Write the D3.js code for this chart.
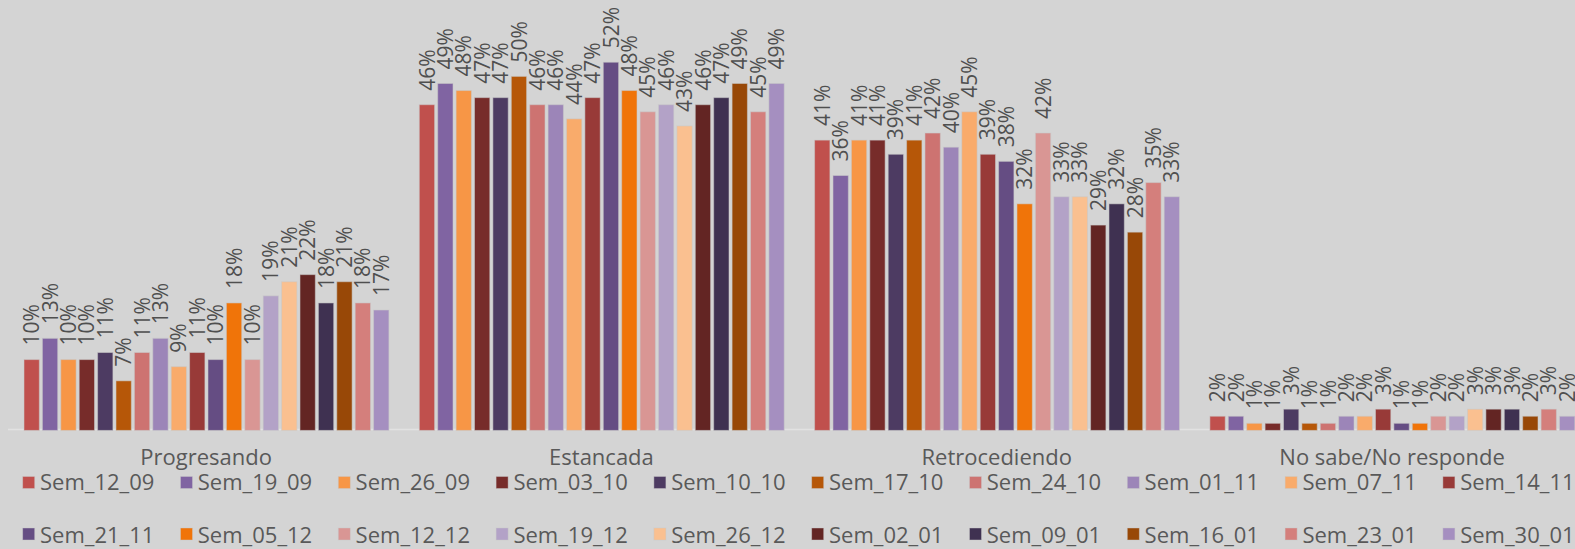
<!DOCTYPE html>
<html>
<head>
<meta charset="utf-8">
<script src="https://cdn.jsdelivr.net/npm/d3@7/dist/d3.min.js"></script>
<style>
html, body { margin: 0; padding: 0; background: #d4d4d4; }
svg { display: block; }
</style>
</head>
<body>
<svg id="chart" width="1575" height="549"></svg>
<script>
const categories = ["Progresando", "Estancada", "Retrocediendo", "No sabe/No responde"];
const series = ["Sem_12_09","Sem_19_09","Sem_26_09","Sem_03_10","Sem_10_10","Sem_17_10","Sem_24_10","Sem_01_11","Sem_07_11","Sem_14_11",
                "Sem_21_11","Sem_05_12","Sem_12_12","Sem_19_12","Sem_26_12","Sem_02_01","Sem_09_01","Sem_16_01","Sem_23_01","Sem_30_01"];
const colors = ["#c0504d","#8064a2","#f79646","#772c2a","#4d3b62","#b65708","#cd7371","#9c85b8","#f9ab6b","#983a38",
                "#654d83","#f07409","#d99694","#b3a2c7","#fac090","#632523","#3f3151","#984807","#d47f7c","#a58fc0"];
// values per category, in series order (percent)
const progresando    = [10,13,10,10,11,7,11,13,9,11,10,18,10,19,21,22,18,21,18,17];
const estancada      = [46,49,48,47,47,50,46,46,44,47,52,48,45,46,43,46,47,49,45,49];
const retrocediendo  = [41,36,41,41,39,41,42,40,45,39,38,32,42,33,33,29,32,28,35,33];
const noSabe         = [2,2,1,1,3,1,1,2,2,3,1,1,2,2,3,3,3,2,3,2];
const valuesByCategory = [progresando, estancada, retrocediendo, noSabe];

const svg = d3.select("#chart");
const FONT = "'Open Sans', sans-serif";
const TEXT = "#595959";

const x0 = d3.scaleBand().domain(categories).range([8.5, 8.5 + 4 * 395.3]).padding(0);
const x1 = d3.scaleBand().domain(series).range([15.5, 380.4]).paddingInner(0.168).paddingOuter(0);
const y = d3.scaleLinear().domain([0, 0.6]).range([430.4, 430.4 - 0.6 * 708]);

// baseline
svg.append("line")
  .attr("x1", 8).attr("x2", 1575)
  .attr("y1", 429.5).attr("y2", 429.5)
  .attr("stroke", "#e2e2e2").attr("stroke-width", 1.5);

const data = [];
categories.forEach((c, ci) => {
  series.forEach((s, si) => {
    data.push({cat: c, ser: s, si: si, v: valuesByCategory[ci][si] / 100});
  });
});

const g = svg.append("g");
g.selectAll("rect").data(data).join("rect")
  .attr("x", d => x0(d.cat) + x1(d.ser))
  .attr("y", d => y(d.v))
  .attr("width", x1.bandwidth())
  .attr("height", d => y(0) - y(d.v))
  .attr("fill", d => colors[d.si])
  .attr("stroke", "rgba(200,200,200,0.55)")
  .attr("stroke-width", 1);

g.selectAll("text.lbl").data(data).join("text")
  .attr("class", "lbl")
  .attr("transform", d => `translate(${x0(d.cat) + x1(d.ser) + x1.bandwidth() / 2},${y(d.v) - 14}) rotate(-90)`)
  .attr("dy", "0.36em")
  .attr("text-anchor", "start")
  .attr("font-family", FONT)
  .attr("font-size", 21)
  .attr("fill", "#4f4f4f")
  .text(d => d3.format(".0%")(d.v));

// category axis labels
svg.append("g").selectAll("text").data(categories).join("text")
  .attr("x", d => x0(d) + x0.bandwidth() / 2)
  .attr("y", 465)
  .attr("text-anchor", "middle")
  .attr("font-family", FONT)
  .attr("font-size", 22)
  .attr("fill", TEXT)
  .text(d => d);

// legend
const leg = svg.append("g");
series.forEach((s, i) => {
  const row = Math.floor(i / 10), col = i % 10;
  const lx = 22.7 + col * 157.8;
  const cy = row === 0 ? 482.5 : 534;
  leg.append("rect")
    .attr("x", lx).attr("y", cy - 6)
    .attr("width", 12).attr("height", 12)
    .attr("fill", colors[i])
    .attr("stroke", "rgba(200,200,200,0.55)").attr("stroke-width", 0.8);
  leg.append("text")
    .attr("x", lx + 17.3)
    .attr("y", row === 0 ? 490 : 543)
    .attr("font-family", FONT)
    .attr("font-size", 22)
    .attr("fill", TEXT)
    .text(s);
});
</script>
</body>
</html>
